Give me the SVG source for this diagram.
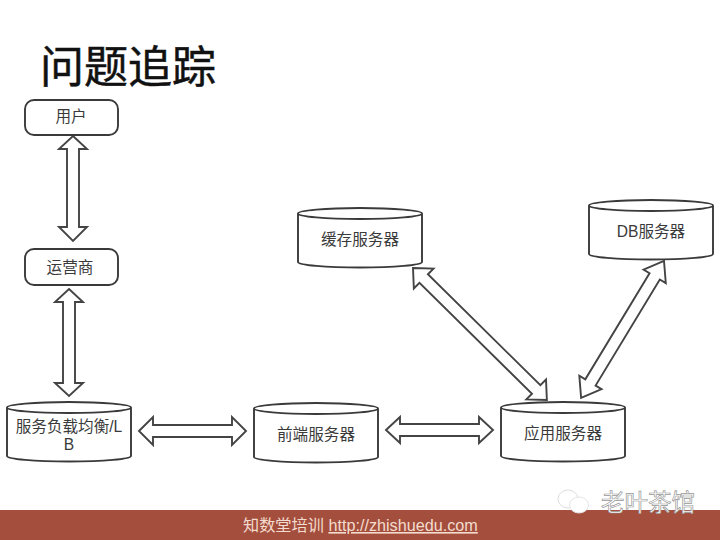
<svg xmlns="http://www.w3.org/2000/svg" width="720" height="540" viewBox="0 0 720 540">
<style>
text{font-family:"Liberation Sans","Noto Sans CJK SC",sans-serif}
.n{fill:#fff;stroke:#3a3a3a;stroke-width:1.9}
.a{fill:#fff;stroke:#444;stroke-width:1.9;stroke-linejoin:miter}
.l{font-size:15.6px;fill:#3a3a3a;text-anchor:middle}
</style>
<defs>
<path id="cyl" class="n" d="M0,5.5 A62,5.5 0 0 1 124,5.5 V54 A62,5.5 0 0 1 0,54 Z M0,5.5 A62,5.5 0 0 0 124,5.5"/>
</defs>
<rect width="720" height="540" fill="#fff"/>
<text x="40" y="83" font-size="44" fill="#111" stroke="#111" stroke-width=".5">问题追踪</text>
<g id="connectors">
<polygon class="a" points="73,136 87,149 79,149 79,227 87,227 73,241 59,227 67,227 67,149 59,149"/>
<polygon class="a" points="69,289 83,302 75,302 75,383 83,383 69,396 55,383 63,383 63,302 55,302"/>
<polygon class="a" points="139,431 153,417 153,425 232,425 232,417 246,431 232,445 232,437 153,437 153,445"/>
<polygon class="a" points="386,430 400,417 400,424 479,424 479,417 493,430 479,443 479,436 400,436 400,443"/>
<polygon class="a" transform="translate(413,268) rotate(44.6)" points="0,0 15,-14 15,-6 173,-6 173,-14 188,0 173,14 173,6 15,6 15,14"/>
<polygon class="a" transform="translate(664,261) rotate(121.2)" points="0,0 18,-13 18,-6 142,-6 142,-13 160,0 142,13 142,6 18,6 18,13"/>
</g>
<g id="user"><rect class="n" x="25" y="100" width="93" height="35" rx="9"/><text class="l" x="71" y="122">用户</text></g>
<g id="isp"><rect class="n" x="25" y="249" width="93" height="36" rx="9"/><text class="l" x="70" y="273">运营商</text></g>
<g id="lb"><use href="#cyl" x="7" y="402"/><text class="l" x="69" y="432">服务负载均衡/L</text><text class="l" x="69" y="450">B</text></g>
<g id="frontend"><use href="#cyl" x="254" y="403"/><text class="l" x="316" y="440">前端服务器</text></g>
<g id="app"><use href="#cyl" x="501" y="402"/><text class="l" x="563" y="439">应用服务器</text></g>
<g id="cache"><use href="#cyl" x="298" y="208"/><text class="l" x="360" y="245">缓存服务器</text></g>
<g id="db"><use href="#cyl" x="589" y="200"/><text class="l" x="651" y="237">DB服务器</text></g>
<rect id="footer" x="0" y="510" width="720" height="30" fill="#a44e3e"/>
<text x="243" y="531" font-size="16.2" fill="#f3dccd">知数堂培训 <tspan text-decoration="underline">http://zhishuedu.com</tspan></text>
<g id="watermark">
<ellipse cx="568" cy="499" rx="10" ry="9" fill="#fff" stroke="#ddd"/>
<ellipse cx="579" cy="505" rx="9.5" ry="8" fill="#fff" stroke="#e4e4e4"/>
<text x="601" y="511" font-size="23.5" fill="#fff" stroke="#999" stroke-width=".7">老叶茶馆</text>
</g>
</svg>
